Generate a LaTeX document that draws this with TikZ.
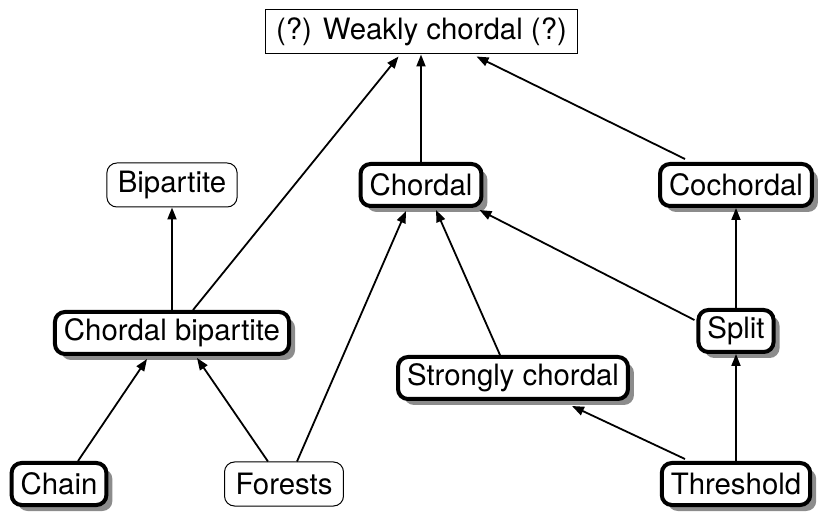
\documentclass[tikz,border=0pt]{standalone}
\usepackage{fontspec}
\setmainfont{TeX Gyre Heros}
\usetikzlibrary{arrows.meta,shadows,calc}

\tikzset{every picture/.style={line width=0.9pt}}
\tikzset{
  gclass/.style={draw,line width=2pt,rounded corners=5pt,fill=white,
    inner xsep=4.5pt,minimum height=21pt,font=\fontsize{14.7}{16}\selectfont,
    drop shadow={shadow xshift=3pt,shadow yshift=-3pt,fill=black!45,opacity=1}},
  gthin/.style={draw,line width=0.5pt,rounded corners=5pt,fill=white,
    inner xsep=5.5pt,minimum height=22pt,font=\fontsize{14.7}{16}\selectfont},
  gtop/.style={gthin,rounded corners=0pt},
  isa/.style={-{Triangle[length=6pt,width=4.5pt]},line width=0.9pt}
}

\begin{document}
\begin{tikzpicture}[x=0.5pt,y=0.5pt,yscale=-1,xscale=1]
\useasboundingbox (0,0) rectangle (820,513);

% Nodes
\node [gtop] (weak) at (421.5,32) {(?) Weakly chordal (?)};
\node [gthin] (bip) at (172,185) {Bipartite};
\node [gclass] (chordal) at (421,185) {Chordal};
\node [gclass] (coch) at (736,185) {Cochordal};
\node [gclass] (cbip) at (172,333) {Chordal bipartite};
\node [gclass] (split) at (736,331) {Split};
\node [gclass] (strong) at (513,378) {Strongly chordal};
\node [gclass] (chain) at (59,484) {Chain};
\node [gthin] (forest) at (284,484) {Forests};
\node [gclass] (thr) at (736,484) {Threshold};

% Edges
\draw [isa] (cbip.north) -- (bip.south);
\draw [isa] ($(cbip.north)+(21,0)$) -- ($(weak.south)+(-23,2)$);
\draw [isa] (chordal.north) -- (chordal.north |- weak.south);
\draw [isa] ($(coch.north)+(-51,-3)$) -- ($(weak.south)+(55,2)$);
\draw [isa] (split.north) -- (coch.south);
\draw [isa] ($(split.west)+(-2,-11)$) -- ($(chordal.south east)+(-4,2)$);
\draw [isa] ($(strong.north)+(-13,0)$) -- ($(chordal.south)+(15,2)$);
\draw [isa] ($(forest.north)+(13,0)$) -- ($(chordal.south)+(-15,3)$);
\draw [isa] ($(forest.north)+(-16,0)$) -- ($(cbip.south)+(25,2)$);
\draw [isa] ($(chain.north)+(19,0)$) -- ($(cbip.south)+(-25,3)$);
\draw [isa] ($(thr.north)+(-51,-2)$) -- ($(strong.south)+(59,5)$);
\draw [isa] (thr.north) -- (split.south);

\end{tikzpicture}
\end{document}
